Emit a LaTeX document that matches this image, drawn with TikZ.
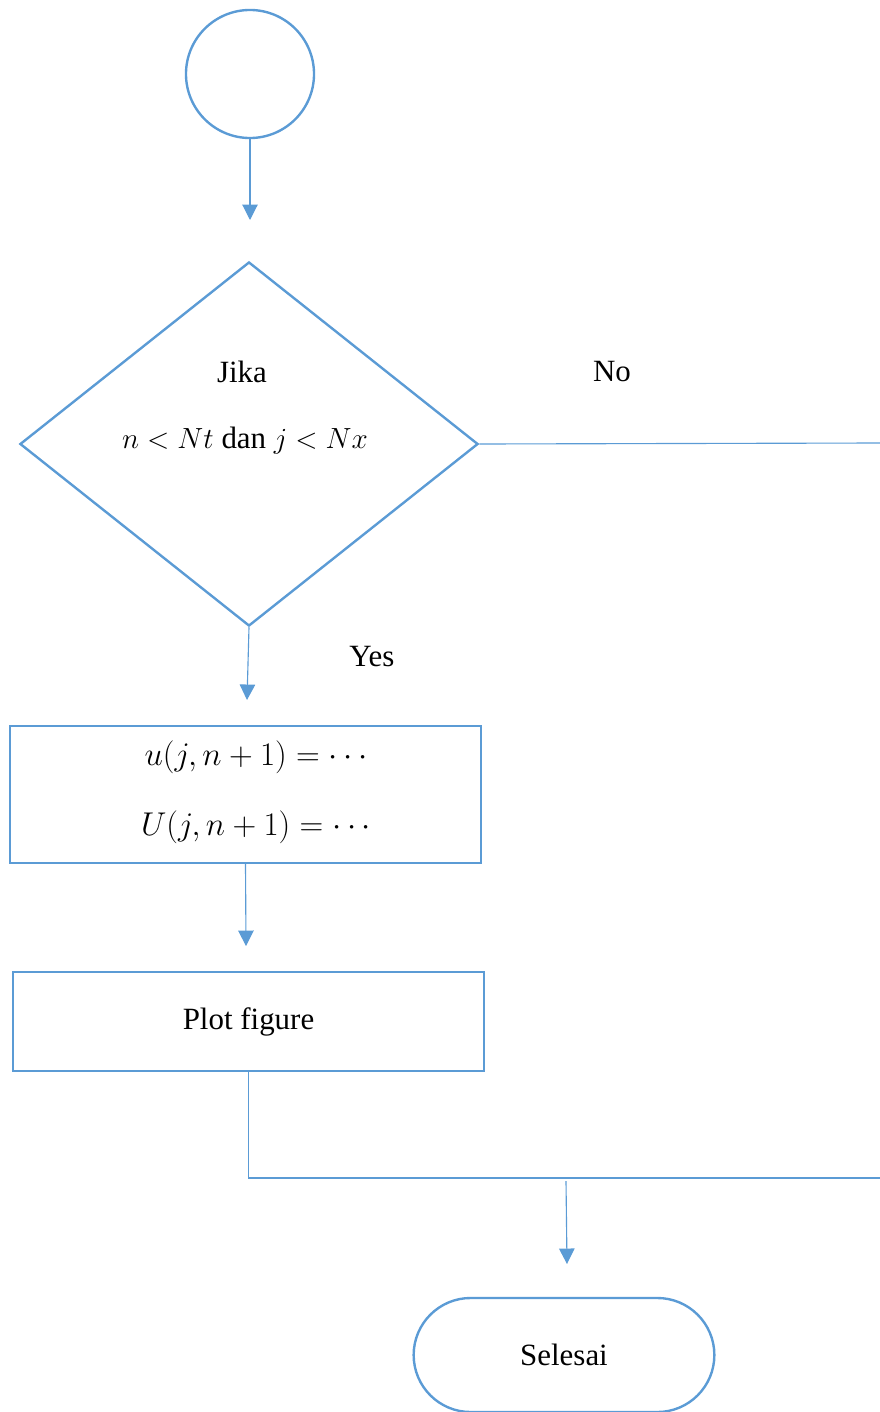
\documentclass[tikz,border=0pt]{standalone}
\usepackage{graphicx}
\usepackage{fontspec}
\setmainfont{Liberation Serif}
\usetikzlibrary{shapes.geometric, shapes.misc, arrows.meta, positioning}
\definecolor{flowblue}{HTML}{5B9BD5}
\newcommand{\rumus}[1]{\scalebox{1.13}{$#1$}}

\begin{document}
\begin{tikzpicture}[x=0.025cm, y=-0.025cm, font=\fontsize{22}{26}\selectfont,
    shape line/.style={draw=flowblue, line width=1.7pt},
    terminal/.style={shape line, rounded rectangle, minimum width=7.75cm, minimum height=2.85cm},
    decision/.style={shape line, diamond, inner sep=0pt, minimum width=11.45cm, minimum height=9.1cm},
    process/.style={shape line, rectangle, minimum width=11.775cm, align=center},
    link/.style={draw=flowblue, line width=0.8pt},
    arrow/.style={link, -{Triangle[width=11pt, length=11pt]}}]
    \useasboundingbox (0,0) rectangle (880,1412);

    \node[shape line, circle, minimum size=3.2cm] (start) at (250,74) {};
    \node[decision] (cek) at (249,444) {};
    \node (jika) at (242,372) {Jika};
    \node (syarat) at (245,441) {$n<Nt$ dan $j<Nx$};
    \node[process, minimum height=3.425cm] (hitung) at (245.5,794.5) {};
    \node (rumus1) at (256,757) {\rumus{u(j,n+1)=\cdots}};
    \node (rumus2) at (256,827) {\rumus{U(j,n+1)=\cdots}};
    \node[process, minimum height=2.475cm] (plot) at (248.5,1021.5) {Plot figure};
    \node[terminal] (selesai) at (564,1355) {Selesai};

    \node (no) at (612,372) {No};
    \node (yes) at (372,657) {Yes};

    \coordinate (a1) at (250,220);
    \coordinate (a2) at (247,700);
    \coordinate (a3) at (246,946);
    \coordinate (noend) at (880,443);
    \coordinate (joinend) at (880,1178);
    \coordinate (merge) at (566,1181);
    \coordinate (a4) at (567,1264);

    \draw[arrow] (start.south) -- (a1);
    \draw[link] (cek.east) -- (noend);
    \draw[arrow] (cek.south) -- (a2);
    \draw[arrow] (hitung.south) -- (a3);
    \draw[link] (plot.south) |- (joinend);
    \draw[arrow] (merge) -- (a4);
\end{tikzpicture}
\end{document}
